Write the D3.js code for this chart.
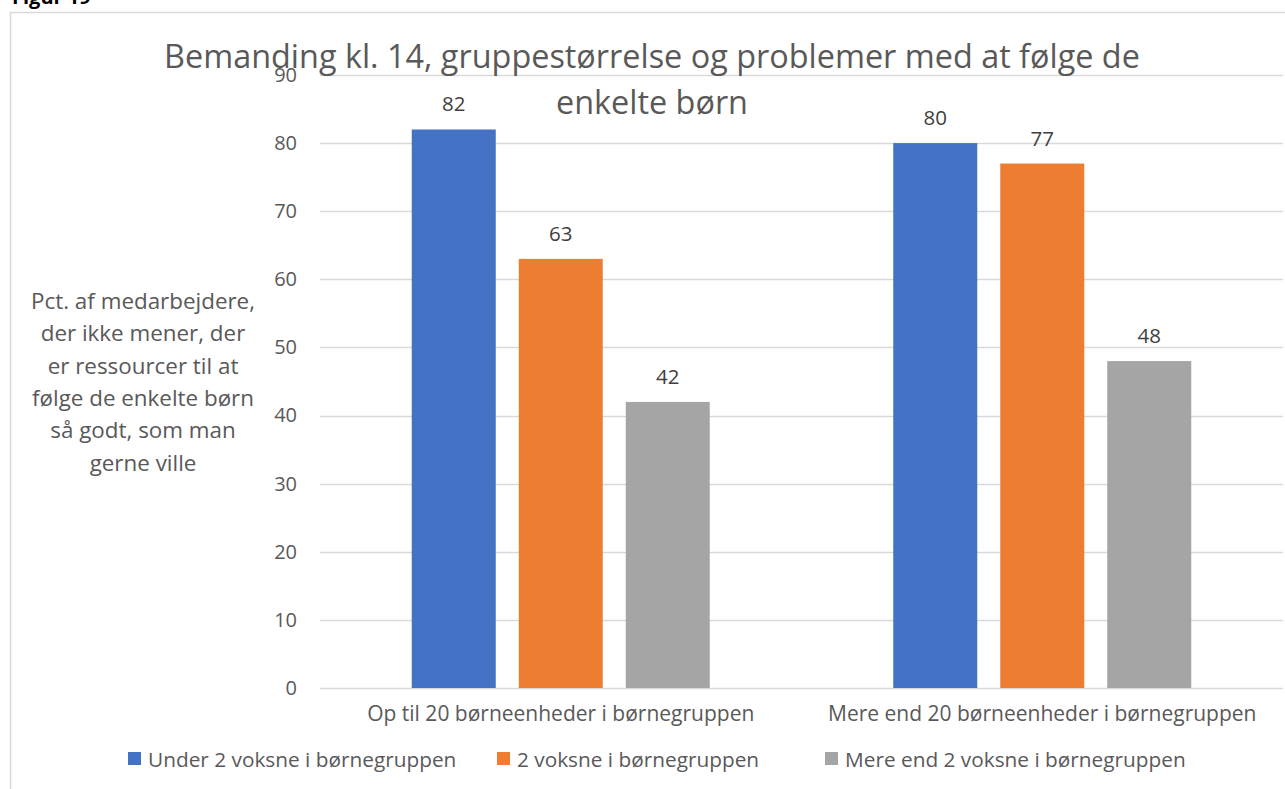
<!DOCTYPE html>
<html>
<head>
<meta charset="utf-8">
<script src="https://cdn.jsdelivr.net/npm/d3@7"></script>
<style>
  body { margin: 0; background: #fff; }
  svg text { font-family: "Open Sans", "Noto Sans", sans-serif; }
</style>
</head>
<body>
<div id="chart"></div>
<script>
var categories = ["Op til 20 børneenheder i børnegruppen", "Mere end 20 børneenheder i børnegruppen"],
    series = ["Under 2 voksne i børnegruppen", "2 voksne i børnegruppen", "Mere end 2 voksne i børnegruppen"],
    colors = ["#4472c4", "#ed7d31", "#a5a5a5"];

var under2 = [82, 80],
    two = [63, 77],
    over2 = [42, 48];

var yTicks = [0, 10, 20, 30, 40, 50, 60, 70, 80, 90];

var titleLines = ["Bemanding kl. 14, gruppestørrelse og problemer med at følge de", "enkelte børn"],
    yLabelLines = ["Pct. af medarbejdere,", "der ikke mener, der", "er ressourcer til at", "følge de enkelte børn", "så godt, som man", "gerne ville"];

var width = 1285,
    height = 789;

var values = [under2, two, over2];

var svg = d3.select("#chart").append("svg")
    .attr("width", width)
    .attr("height", height);

// figure caption, mostly cut off at top
svg.append("text")
    .attr("x", 12)
    .attr("y", 4)
    .style("font-size", "20px")
    .style("font-weight", "bold")
    .attr("fill", "#000")
    .text("Figur 19");

// chart border
svg.append("rect")
    .attr("x", 10.5)
    .attr("y", 12.5)
    .attr("width", 1300)
    .attr("height", 800)
    .attr("fill", "none")
    .attr("stroke", "#d9d9d9")
    .attr("stroke-width", 1.5);

var x = d3.scaleBand()
    .domain(categories)
    .range([320, 1283]);

var x1 = d3.scaleBand()
    .domain(series)
    .range([0, 84 * 3 + 23 * 2])
    .paddingInner(23 / 107);

var y = d3.scaleLinear()
    .domain([0, 90])
    .range([688, 75]);

// gridlines
svg.append("g")
    .selectAll("line")
    .data(yTicks)
    .enter().append("line")
    .attr("x1", 320)
    .attr("x2", 1283)
    .attr("y1", d => Math.round(y(d)) + 0.5)
    .attr("y2", d => Math.round(y(d)) + 0.5)
    .attr("stroke", "#d9d9d9")
    .attr("stroke-width", 1.5);

// y axis labels
var yAxis = svg.append("g")
    .attr("transform", "translate(297,0)")
    .call(d3.axisLeft(y).tickValues(yTicks).tickSize(0).tickPadding(0));
yAxis.select(".domain").remove();
yAxis.selectAll("text")
    .style("font-family", "'Open Sans', sans-serif")
    .style("font-size", "20px")
    .attr("fill", "#595959");

// bars
var groups = svg.append("g")
    .selectAll("g")
    .data(categories)
    .enter().append("g")
    .attr("transform", d => "translate(" + (x(d) + x.bandwidth() / 2 - x1.range()[1] / 2) + ",0)");

groups.selectAll("rect")
    .data((d, i) => series.map((s, j) => ({s: s, v: values[j][i], c: colors[j]})))
    .enter().append("rect")
    .attr("x", d => x1(d.s))
    .attr("y", d => y(d.v))
    .attr("width", x1.bandwidth())
    .attr("height", d => y(0) - y(d.v))
    .attr("fill", d => d.c);

groups.selectAll("text")
    .data((d, i) => series.map((s, j) => ({s: s, v: values[j][i]})))
    .enter().append("text")
    .attr("x", d => x1(d.s) + x1.bandwidth() / 2)
    .attr("y", d => y(d.v) - 18)
    .attr("text-anchor", "middle")
    .style("font-size", "20.5px")
    .attr("fill", "#404040")
    .text(d => d.v);

// x axis labels
var xAxis = svg.append("g")
    .attr("transform", "translate(0,721)")
    .call(d3.axisBottom(x).tickSize(0).tickPadding(0));
xAxis.select(".domain").remove();
xAxis.selectAll("text")
    .attr("y", 0)
    .attr("dy", 0)
    .style("font-family", "'Open Sans', sans-serif")
    .style("font-size", "21px")
    .attr("fill", "#595959");

// y title
svg.append("text")
    .attr("text-anchor", "middle")
    .style("font-size", "22.4px")
    .attr("fill", "#595959")
    .selectAll("tspan")
    .data(yLabelLines)
    .enter().append("tspan")
    .attr("x", 143)
    .attr("y", (d, i) => 309 + i * 32.3)
    .text(d => d);

// title
svg.append("text")
    .attr("text-anchor", "middle")
    .style("font-size", "32.4px")
    .attr("fill", "#595959")
    .selectAll("tspan")
    .data(titleLines)
    .enter().append("tspan")
    .attr("x", 652)
    .attr("y", (d, i) => 68 + i * 46)
    .text(d => d);

// legend
var legendX = [128, 497, 825];
var legend = svg.append("g")
    .selectAll("g")
    .data(series)
    .enter().append("g")
    .attr("transform", (d, i) => "translate(" + legendX[i] + ",752)");
legend.append("rect")
    .attr("width", 13)
    .attr("height", 13)
    .attr("fill", (d, i) => colors[i]);
legend.append("text")
    .attr("x", 20)
    .attr("y", 15)
    .style("font-size", "20.8px")
    .attr("fill", "#595959")
    .text(d => d);
</script>
</body>
</html>
